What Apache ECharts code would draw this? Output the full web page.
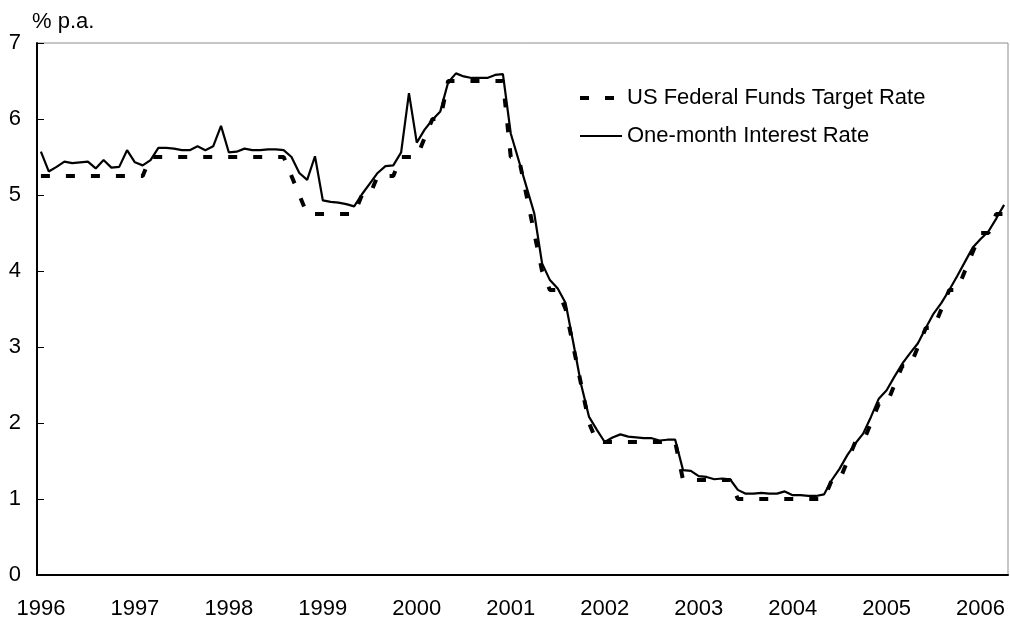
<!DOCTYPE html>
<html>
<head>
<meta charset="utf-8">
<title>Fed Funds vs One-month rate</title>
<script src="https://cdn.jsdelivr.net/npm/echarts@6/dist/echarts.min.js"></script>
<style>
  html, body { margin: 0; padding: 0; background: #fff; }
  #chart { width: 1010px; height: 623px; }
</style>
</head>
<body>
<div id="chart"></div>
<script>
// 月度数据 1996-01 .. 2006-04
var years = ['1996', '1997', '1998', '1999', '2000', '2001', '2002', '2003', '2004', '2005', '2006']
var monthsInLastYear = 4

// US Federal Funds Target Rate (month end)
var fedTarget = [
  5.25, 5.25, 5.25, 5.25, 5.25, 5.25, 5.25, 5.25, 5.25, 5.25, 5.25, 5.25,
  5.25, 5.25, 5.5, 5.5, 5.5, 5.5, 5.5, 5.5, 5.5, 5.5, 5.5, 5.5,
  5.5, 5.5, 5.5, 5.5, 5.5, 5.5, 5.5, 5.5, 5.25, 5.0, 4.75, 4.75,
  4.75, 4.75, 4.75, 4.75, 4.75, 5.0, 5.0, 5.25, 5.25, 5.25, 5.5, 5.5,
  5.5, 5.75, 6.0, 6.0, 6.5, 6.5, 6.5, 6.5, 6.5, 6.5, 6.5, 6.5,
  5.5, 5.5, 5.0, 4.5, 4.0, 3.75, 3.75, 3.5, 3.0, 2.5, 2.0, 1.75,
  1.75, 1.75, 1.75, 1.75, 1.75, 1.75, 1.75, 1.75, 1.75, 1.75, 1.25, 1.25,
  1.25, 1.25, 1.25, 1.25, 1.25, 1.0, 1.0, 1.0, 1.0, 1.0, 1.0, 1.0,
  1.0, 1.0, 1.0, 1.0, 1.0, 1.25, 1.25, 1.5, 1.75, 1.75, 2.0, 2.25,
  2.25, 2.5, 2.75, 2.75, 3.0, 3.25, 3.25, 3.5, 3.75, 3.75, 4.0, 4.25,
  4.5, 4.5, 4.75, 4.75
]

// One-month Interest Rate
var oneMonth = [
  5.57, 5.31, 5.37, 5.44, 5.42, 5.43, 5.44, 5.35, 5.46, 5.36, 5.37, 5.59,
  5.43, 5.39, 5.46, 5.62, 5.62, 5.61, 5.59, 5.59, 5.64, 5.59, 5.64, 5.91,
  5.56, 5.57, 5.61, 5.59, 5.59, 5.60, 5.60, 5.59, 5.50, 5.29, 5.20, 5.51,
  4.93, 4.91, 4.90, 4.88, 4.85, 5.01, 5.15, 5.29, 5.38, 5.39, 5.56, 6.34,
  5.69, 5.86, 5.99, 6.10, 6.48, 6.60, 6.56, 6.54, 6.54, 6.54, 6.58, 6.59,
  5.81, 5.46, 5.11, 4.76, 4.10, 3.88, 3.77, 3.58, 3.05, 2.50, 2.08, 1.91,
  1.75, 1.81, 1.85, 1.82, 1.81, 1.80, 1.80, 1.77, 1.78, 1.78, 1.38, 1.37,
  1.30, 1.29, 1.26, 1.27, 1.26, 1.12, 1.07, 1.07, 1.08, 1.07, 1.07, 1.10,
  1.05, 1.05, 1.04, 1.04, 1.06, 1.25, 1.40, 1.58, 1.73, 1.86, 2.08, 2.32,
  2.43, 2.61, 2.78, 2.92, 3.05, 3.25, 3.44, 3.58, 3.75, 3.93, 4.12, 4.31,
  4.42, 4.52, 4.69, 4.87
]

// 生成月份类目
var months = []
for (var i = 0; i < years.length; i++) {
  var n = i === years.length - 1 ? monthsInLastYear : 12
  for (var m = 1; m <= n; m++) {
    months.push(years[i] + '-' + (m < 10 ? '0' + m : m))
  }
}

var font = 'Liberation Sans, Arial, sans-serif'
var dashStyle = { color: '#000', width: 4, type: [9, 16], cap: 'butt' }
var solidStyle = { color: '#000', width: 2.2 }

function setOption(chart) {
  var options = {
    animation: false,
    title: {
      text: '% p.a.',
      left: 27,
      top: 6,
      textStyle: {
        fontFamily: font,
        fontSize: 22,
        fontWeight: 'normal',
        color: '#000'
      }
    },
    legend: {
      orient: 'vertical',
      left: 573,
      top: 82,
      itemWidth: 42,
      itemHeight: 6,
      itemGap: 16,
      // 隐藏图例中线上的小圆点
      itemStyle: { opacity: 0 },
      textStyle: {
        fontFamily: font,
        fontSize: 22,
        color: '#000'
      },
      data: [{
        name: 'US Federal Funds Target Rate',
        lineStyle: dashStyle
      }, {
        name: 'One-month Interest Rate',
        lineStyle: solidStyle
      }]
    },
    grid: {
      left: 37,
      right: 2,
      top: 43,
      bottom: 48,
      show: true,
      borderColor: '#8c8c8c',
      borderWidth: 1
    },
    xAxis: {
      type: 'category',
      boundaryGap: true,
      data: months,
      axisLine: {
        lineStyle: { color: '#000', width: 2 }
      },
      axisTick: {
        inside: true,
        length: 7,
        interval: 11,
        lineStyle: { color: '#000', width: 1 }
      },
      axisLabel: {
        interval: 11,
        margin: 23,
        fontFamily: font,
        fontSize: 22,
        color: '#000',
        formatter: function (v) {
          return v.slice(0, 4)
        }
      },
      splitLine: { show: false }
    },
    yAxis: {
      type: 'value',
      min: 0,
      max: 7,
      interval: 1,
      axisLine: {
        show: true,
        lineStyle: { color: '#000', width: 2 }
      },
      axisTick: {
        show: true,
        inside: true,
        length: 7,
        lineStyle: { color: '#000', width: 1 }
      },
      axisLabel: {
        margin: 16,
        fontFamily: font,
        fontSize: 22,
        color: '#000'
      },
      splitLine: { show: false }
    },
    series: [{
      name: 'US Federal Funds Target Rate',
      type: 'line',
      symbol: 'none',
      data: fedTarget,
      lineStyle: dashStyle,
      itemStyle: { color: '#000' }
    }, {
      name: 'One-month Interest Rate',
      type: 'line',
      symbol: 'none',
      data: oneMonth,
      lineStyle: solidStyle,
      itemStyle: { color: '#000' }
    }]
  }
  chart.setOption(options)
}

var chart = echarts.init(document.getElementById('chart'), null, { renderer: 'canvas' })
setOption(chart)
</script>
</body>
</html>
